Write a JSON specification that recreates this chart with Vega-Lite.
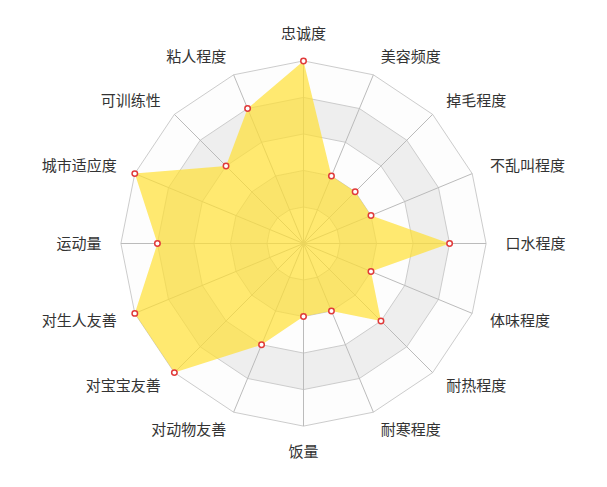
{
  "$schema": "https://vega.github.io/schema/vega-lite/v6.json",
  "width": 607,
  "height": 487,
  "autosize": "none",
  "padding": 0,
  "background": "white",
  "config": {"view": {"stroke": null}},
  "datasets": {
    "dims": [
      {"name": "忠诚度", "i": 0, "v": 5},
      {"name": "美容频度", "i": 1, "v": 2},
      {"name": "掉毛程度", "i": 2, "v": 2},
      {"name": "不乱叫程度", "i": 3, "v": 2},
      {"name": "口水程度", "i": 4, "v": 4},
      {"name": "体味程度", "i": 5, "v": 2},
      {"name": "耐热程度", "i": 6, "v": 3},
      {"name": "耐寒程度", "i": 7, "v": 2},
      {"name": "饭量", "i": 8, "v": 2},
      {"name": "对动物友善", "i": 9, "v": 3},
      {"name": "对宝宝友善", "i": 10, "v": 5},
      {"name": "对生人友善", "i": 11, "v": 5},
      {"name": "运动量", "i": 12, "v": 4},
      {"name": "城市适应度", "i": 13, "v": 5},
      {"name": "可训练性", "i": 14, "v": 3},
      {"name": "粘人程度", "i": 15, "v": 4}
    ],
    "grid": [
      {"i":0,"lv":1},{"i":1,"lv":1},{"i":2,"lv":1},{"i":3,"lv":1},{"i":4,"lv":1},{"i":5,"lv":1},{"i":6,"lv":1},{"i":7,"lv":1},{"i":8,"lv":1},{"i":9,"lv":1},{"i":10,"lv":1},{"i":11,"lv":1},{"i":12,"lv":1},{"i":13,"lv":1},{"i":14,"lv":1},{"i":15,"lv":1},
      {"i":0,"lv":2},{"i":1,"lv":2},{"i":2,"lv":2},{"i":3,"lv":2},{"i":4,"lv":2},{"i":5,"lv":2},{"i":6,"lv":2},{"i":7,"lv":2},{"i":8,"lv":2},{"i":9,"lv":2},{"i":10,"lv":2},{"i":11,"lv":2},{"i":12,"lv":2},{"i":13,"lv":2},{"i":14,"lv":2},{"i":15,"lv":2},
      {"i":0,"lv":3},{"i":1,"lv":3},{"i":2,"lv":3},{"i":3,"lv":3},{"i":4,"lv":3},{"i":5,"lv":3},{"i":6,"lv":3},{"i":7,"lv":3},{"i":8,"lv":3},{"i":9,"lv":3},{"i":10,"lv":3},{"i":11,"lv":3},{"i":12,"lv":3},{"i":13,"lv":3},{"i":14,"lv":3},{"i":15,"lv":3},
      {"i":0,"lv":4},{"i":1,"lv":4},{"i":2,"lv":4},{"i":3,"lv":4},{"i":4,"lv":4},{"i":5,"lv":4},{"i":6,"lv":4},{"i":7,"lv":4},{"i":8,"lv":4},{"i":9,"lv":4},{"i":10,"lv":4},{"i":11,"lv":4},{"i":12,"lv":4},{"i":13,"lv":4},{"i":14,"lv":4},{"i":15,"lv":4},
      {"i":0,"lv":5},{"i":1,"lv":5},{"i":2,"lv":5},{"i":3,"lv":5},{"i":4,"lv":5},{"i":5,"lv":5},{"i":6,"lv":5},{"i":7,"lv":5},{"i":8,"lv":5},{"i":9,"lv":5},{"i":10,"lv":5},{"i":11,"lv":5},{"i":12,"lv":5},{"i":13,"lv":5},{"i":14,"lv":5},{"i":15,"lv":5}
    ]
  },
  "encoding": {
    "x": {"field": "x", "type": "quantitative", "scale": {"domain": [-8.3105, 8.3105], "nice": false, "zero": false}, "axis": null},
    "y": {"field": "y", "type": "quantitative", "scale": {"domain": [-6.6676, 6.6676], "nice": false, "zero": false}, "axis": null}
  },
  "layer": [
    {
      "data": {"name": "grid"},
      "transform": [
        {"filter": "datum.lv == 5"},
        {"calculate": "datum.lv * sin(datum.i * PI / 8)", "as": "x"},
        {"calculate": "datum.lv * cos(datum.i * PI / 8)", "as": "y"}
      ],
      "mark": {"type": "line", "interpolate": "linear-closed", "fill": "#fdfdfd", "stroke": null},
      "encoding": {"order": {"field": "i", "type": "quantitative"}}
    },
    {
      "data": {"name": "grid"},
      "transform": [
        {"filter": "datum.lv == 4"},
        {"calculate": "datum.lv * sin(datum.i * PI / 8)", "as": "x"},
        {"calculate": "datum.lv * cos(datum.i * PI / 8)", "as": "y"}
      ],
      "mark": {"type": "line", "interpolate": "linear-closed", "fill": "#eeeeee", "stroke": null},
      "encoding": {"order": {"field": "i", "type": "quantitative"}}
    },
    {
      "data": {"name": "grid"},
      "transform": [
        {"filter": "datum.lv == 3"},
        {"calculate": "datum.lv * sin(datum.i * PI / 8)", "as": "x"},
        {"calculate": "datum.lv * cos(datum.i * PI / 8)", "as": "y"}
      ],
      "mark": {"type": "line", "interpolate": "linear-closed", "fill": "#fdfdfd", "stroke": null},
      "encoding": {"order": {"field": "i", "type": "quantitative"}}
    },
    {
      "data": {"name": "grid"},
      "transform": [
        {"filter": "datum.lv == 2"},
        {"calculate": "datum.lv * sin(datum.i * PI / 8)", "as": "x"},
        {"calculate": "datum.lv * cos(datum.i * PI / 8)", "as": "y"}
      ],
      "mark": {"type": "line", "interpolate": "linear-closed", "fill": "#eeeeee", "stroke": null},
      "encoding": {"order": {"field": "i", "type": "quantitative"}}
    },
    {
      "data": {"name": "grid"},
      "transform": [
        {"filter": "datum.lv == 1"},
        {"calculate": "datum.lv * sin(datum.i * PI / 8)", "as": "x"},
        {"calculate": "datum.lv * cos(datum.i * PI / 8)", "as": "y"}
      ],
      "mark": {"type": "line", "interpolate": "linear-closed", "fill": "#fdfdfd", "stroke": null},
      "encoding": {"order": {"field": "i", "type": "quantitative"}}
    },
    {
      "data": {"name": "grid"},
      "transform": [
        {"calculate": "datum.lv * sin(datum.i * PI / 8)", "as": "x"},
        {"calculate": "datum.lv * cos(datum.i * PI / 8)", "as": "y"}
      ],
      "mark": {"type": "line", "interpolate": "linear-closed", "stroke": "#cccccc", "strokeWidth": 1},
      "encoding": {"order": {"field": "i", "type": "quantitative"}, "detail": {"field": "lv", "type": "nominal"}}
    },
    {
      "data": {"name": "grid"},
      "transform": [
        {"filter": "datum.lv == 5"},
        {"calculate": "datum.lv * sin(datum.i * PI / 8)", "as": "x"},
        {"calculate": "datum.lv * cos(datum.i * PI / 8)", "as": "y"}
      ],
      "mark": {"type": "rule", "stroke": "#bbbbbb", "strokeWidth": 1},
      "encoding": {"x2": {"datum": 0}, "y2": {"datum": 0}}
    },
    {
      "data": {"name": "dims"},
      "transform": [
        {"calculate": "datum.v * sin(datum.i * PI / 8)", "as": "x"},
        {"calculate": "datum.v * cos(datum.i * PI / 8)", "as": "y"}
      ],
      "mark": {"type": "line", "interpolate": "linear-closed", "fill": "#ffdf33", "fillOpacity": 0.7, "stroke": null},
      "encoding": {"order": {"field": "i", "type": "quantitative"}}
    },
    {
      "data": {"name": "dims"},
      "transform": [
        {"calculate": "datum.v * sin(datum.i * PI / 8)", "as": "x"},
        {"calculate": "datum.v * cos(datum.i * PI / 8)", "as": "y"}
      ],
      "mark": {"type": "point", "filled": true, "fill": "white", "stroke": "#e03a3a", "strokeWidth": 1.5, "size": 30, "opacity": 1},
      "encoding": {}
    },
    {
      "data": {"name": "dims"},
      "transform": [
        {"filter": "datum.i == 0"},
        {"calculate": "5.531 * sin(datum.i * PI / 8)", "as": "x"},
        {"calculate": "5.531 * cos(datum.i * PI / 8)", "as": "y"}
      ],
      "mark": {"type": "text", "align": "center", "baseline": "bottom", "font": "Noto Sans CJK SC", "fontSize": 15, "color": "#333333"},
      "encoding": {"text": {"field": "name"}}
    },
    {
      "data": {"name": "dims"},
      "transform": [
        {"filter": "datum.i == 8"},
        {"calculate": "5.531 * sin(datum.i * PI / 8)", "as": "x"},
        {"calculate": "5.531 * cos(datum.i * PI / 8)", "as": "y"}
      ],
      "mark": {"type": "text", "align": "center", "baseline": "top", "font": "Noto Sans CJK SC", "fontSize": 15, "color": "#333333"},
      "encoding": {"text": {"field": "name"}}
    },
    {
      "data": {"name": "dims"},
      "transform": [
        {"filter": "datum.i > 0 && datum.i < 8"},
        {"calculate": "5.531 * sin(datum.i * PI / 8)", "as": "x"},
        {"calculate": "5.531 * cos(datum.i * PI / 8)", "as": "y"}
      ],
      "mark": {"type": "text", "align": "left", "baseline": "middle", "font": "Noto Sans CJK SC", "fontSize": 15, "color": "#333333"},
      "encoding": {"text": {"field": "name"}}
    },
    {
      "data": {"name": "dims"},
      "transform": [
        {"filter": "datum.i > 8"},
        {"calculate": "5.531 * sin(datum.i * PI / 8)", "as": "x"},
        {"calculate": "5.531 * cos(datum.i * PI / 8)", "as": "y"}
      ],
      "mark": {"type": "text", "align": "right", "baseline": "middle", "font": "Noto Sans CJK SC", "fontSize": 15, "color": "#333333"},
      "encoding": {"text": {"field": "name"}}
    }
  ]
}
